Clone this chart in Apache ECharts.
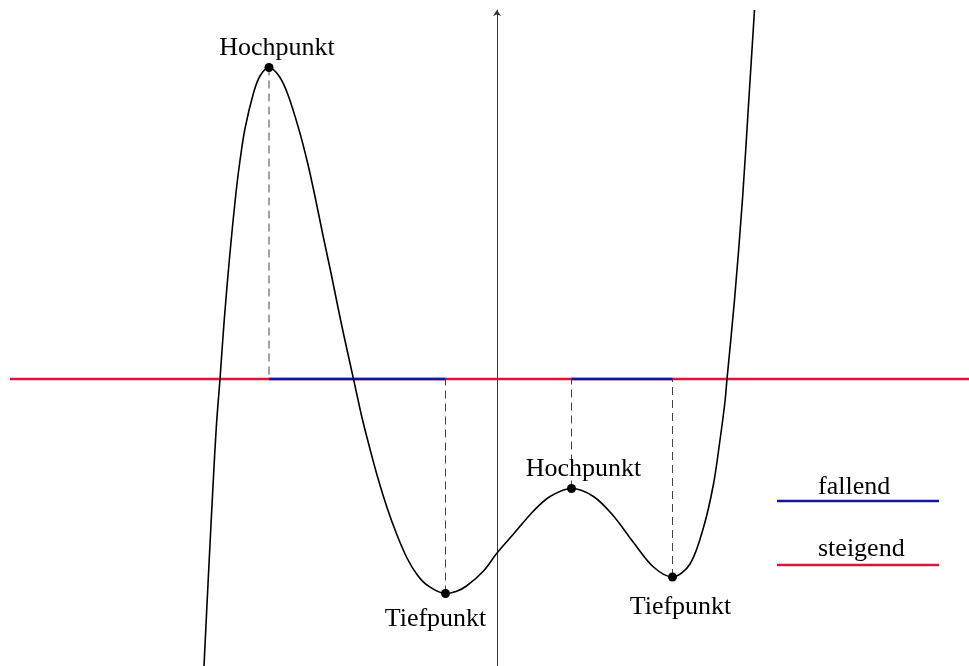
<!DOCTYPE html>
<html>
<head>
<meta charset="utf-8">
<title>Hoch- und Tiefpunkte</title>
<script src="https://cdn.jsdelivr.net/npm/echarts@6/dist/echarts.min.js"></script>
<style>
  html, body { margin: 0; padding: 0; background: #fff; }
  #main { width: 969px; height: 666px; }
</style>
</head>
<body>
<div id="main"></div>
<script>
// Kurvenpunkte
const curveX = [-5.86, -5.77, -5.67, -5.61, -5.54, -5.46, -5.35, -5.22, -5.14, -5.04, -4.87, -4.74,
  -4.56, -4.36, -4.19, -3.97, -3.79, -3.64, -3.48, -3.32, -3.18, -3.06, -2.87, -2.71, -2.60, -2.40,
  -2.20, -2.00, -1.80, -1.60, -1.40, -1.03, -0.82, -0.61, -0.27, 0.00, 0.33, 0.73, 1.06, 1.49, 1.93,
  2.33, 2.73, 3.13, 3.51, 3.86, 4.13, 4.33, 4.46, 4.56, 4.60, 4.75, 4.91, 5.04, 5.15];
const curveY = [-5.74, -3.90, -1.95, -0.90, 0.00, 1.12, 2.42, 3.73, 4.37, 5.01, 5.72, 6.06,
  6.23, 6.06, 5.71, 5.02, 4.33, 3.65, 2.87, 2.12, 1.43, 0.86, 0.00, -0.73, -1.17, -1.92,
  -2.57, -3.12, -3.58, -3.91, -4.12, -4.29, -4.25, -4.14, -3.84, -3.48, -3.10, -2.64, -2.35, -2.19, -2.35,
  -2.74, -3.27, -3.76, -3.96, -3.70, -2.97, -2.10, -1.22, -0.45, 0.00, 1.58, 3.60, 5.64, 7.38];

// Extrempunkte
const extremaX = [-4.56, -1.03, 1.49, 3.51];
const extremaY = [6.23, -4.29, -2.19, -3.96];
const extremaLabels = ['Hochpunkt', 'Tiefpunkt', 'Hochpunkt', 'Tiefpunkt'];

// Bereiche, in denen die Funktion fällt
const fallingFrom = [-4.56, 1.49];
const fallingTo = [-1.03, 3.51];

const xRange = [-9.74, 9.44];
const yRange = [-5.74, 7.38];
const legendNames = ['fallend', 'steigend'];

const RED = '#dc143c';
const BLUE = '#1414a0';
const FONT = '"Liberation Serif", "DejaVu Serif", serif';

const myChart = echarts.init(document.getElementById('main'));

// Beschriftungs-Versatz je Punkt
const labelPos = [
  { position: 'top', distance: 2, offset: [8, 0] },
  { position: 'bottom', distance: 8, offset: [-10, 0] },
  { position: 'top', distance: 2, offset: [12, 0] },
  { position: 'bottom', distance: 13, offset: [8, 0] }
];

const series = [];

// x-Achse rot (steigend)
series.push({
  name: 'steigend',
  type: 'line',
  data: [[xRange[0], 0], [xRange[1], 0]],
  symbol: 'none',
  lineStyle: { color: RED, width: 2.5 },
  z: 2,
  silent: true
});

// blaue Abschnitte (fallend)
for (let i = 0; i < fallingFrom.length; i++) {
  series.push({
    name: 'fallend',
    type: 'line',
    data: [[fallingFrom[i], 0], [fallingTo[i], 0]],
    symbol: 'none',
    lineStyle: { color: BLUE, width: 2.5 },
    z: 3,
    silent: true
  });
}

// gestrichelte Lote
for (let i = 0; i < extremaX.length; i++) {
  series.push({
    type: 'line',
    data: [[extremaX[i], extremaY[i]], [extremaX[i], 0]],
    symbol: 'none',
    lineStyle: { color: '#444', width: 1, type: [8, 5] },
    z: 1,
    silent: true
  });
}

// Funktionsgraph
series.push({
  type: 'line',
  data: curveX.map((x, i) => [x, curveY[i]]),
  symbol: 'none',
  smooth: 0.33,
  lineStyle: { color: '#000', width: 1.6 },
  clip: true,
  z: 4,
  silent: true
});

// Extrempunkte
series.push({
  type: 'scatter',
  data: extremaX.map((x, i) => ({
    value: [x, extremaY[i]],
    label: Object.assign({ show: true, formatter: extremaLabels[i] }, labelPos[i])
  })),
  symbolSize: 9,
  itemStyle: { color: '#000', opacity: 1 },
  label: { color: '#000', fontFamily: FONT, fontSize: 26 },
  z: 5,
  silent: true
});

myChart.setOption({
  animation: false,
  backgroundColor: '#fff',
  grid: { left: 10, right: 0, top: 10, bottom: 0, containLabel: false },
  xAxis: {
    type: 'value',
    min: xRange[0],
    max: xRange[1],
    axisLine: { show: false },
    axisTick: { show: false },
    axisLabel: { show: false },
    splitLine: { show: false }
  },
  yAxis: {
    type: 'value',
    min: yRange[0],
    max: yRange[1],
    axisLine: {
      show: true,
      onZero: true,
      symbol: ['none', 'arrow'],
      symbolSize: [6, 6],
      lineStyle: { color: '#333', width: 1 }
    },
    axisTick: { show: false },
    axisLabel: { show: false },
    splitLine: { show: false }
  },
  series: series,
  graphic: [
    { type: 'text', left: 818, top: 474, style: { text: legendNames[0], font: '26px ' + FONT, fill: '#000' } },
    { type: 'line', shape: { x1: 777, y1: 501, x2: 939, y2: 501 }, style: { stroke: BLUE, lineWidth: 2.5 } },
    { type: 'text', left: 818, top: 536, style: { text: legendNames[1], font: '26px ' + FONT, fill: '#000' } },
    { type: 'line', shape: { x1: 777, y1: 565, x2: 939, y2: 565 }, style: { stroke: RED, lineWidth: 2.5 } }
  ]
});
</script>
</body>
</html>
